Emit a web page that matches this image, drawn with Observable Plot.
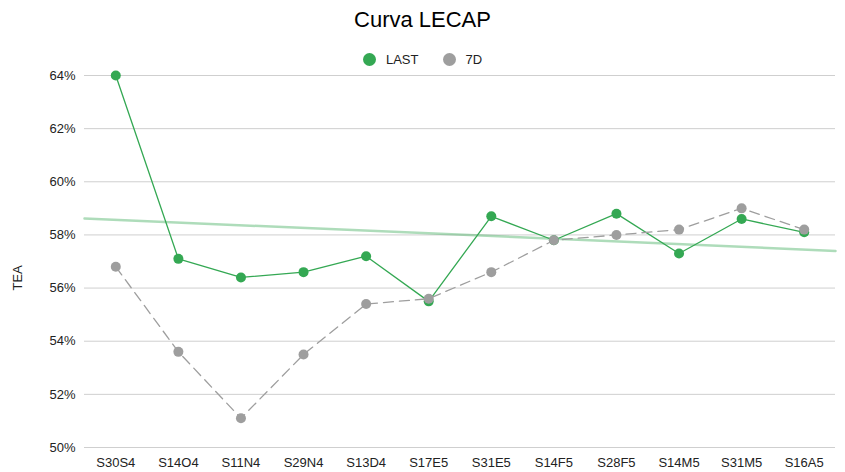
<!DOCTYPE html>
<html>
<head>
<meta charset="utf-8">
<script src="https://cdn.jsdelivr.net/npm/d3@7"></script>
<script src="https://cdn.jsdelivr.net/npm/@observablehq/plot@0.6"></script>
<style>
  html, body { margin: 0; padding: 0; background: #fff; }
  #wrap { position: relative; width: 845px; height: 472px; font-family: "Liberation Sans", Arial, sans-serif; color: #222; }
  #title { position: absolute; left: 0; width: 845px; top: 9px; text-align: center; font-size: 22px; line-height: 22px; color: #000; z-index: 2; }
  #legend { position: absolute; left: 0; width: 845px; top: 53px; display: flex; justify-content: center; align-items: center; font-size: 13px; line-height: 13px; z-index: 2; }
  .sw { display: inline-block; width: 13px; height: 13px; border-radius: 50%; margin-right: 10px; }
  .item { display: flex; align-items: center; }
  #chart { position: absolute; left: 0; top: 62px; z-index: 1; }
</style>
</head>
<body>
<div id="wrap">
  <div id="title">Curva LECAP</div>
  <div id="legend">
    <span class="item"><span class="sw" style="background:#34a853"></span>LAST</span>
    <span class="item" style="margin-left:25px"><span class="sw" style="background:#9e9e9e;margin-right:9px"></span>7D</span>
  </div>
  <div id="chart"></div>
</div>
<script>
const tickers = ["S30S4","S14O4","S11N4","S29N4","S13D4","S17E5","S31E5","S14F5","S28F5","S14M5","S31M5","S16A5"];
const lastValues = [64.0, 57.1, 56.4, 56.6, 57.2, 55.5, 58.7, 57.8, 58.8, 57.3, 58.6, 58.1];
const d7Values = [56.8, 53.6, 51.1, 53.5, 55.4, 55.6, 56.6, 57.8, 58.0, 58.2, 59.0, 58.2];
const yTicks = [50, 52, 54, 56, 58, 60, 62, 64];

const green = "#34a853";
const gray = "#9e9e9e";

const rows = tickers.map((t, i) => ({i, t, last: lastValues[i], d7: d7Values[i]}));

// linear regression trendline of LAST
const n = rows.length;
const mx = d3.mean(rows, d => d.i);
const my = d3.mean(rows, d => d.last);
const sxy = d3.sum(rows, d => (d.i - mx) * (d.last - my));
const sxx = d3.sum(rows, d => (d.i - mx) ** 2);
const slope = sxy / sxx;
const icpt = my - slope * mx;
const trend = [-0.5, n - 0.5].map(x => ({i: x, v: icpt + slope * x}));

const chart = Plot.plot({
  width: 845,
  height: 410,
  marginTop: 13,
  marginBottom: 25,
  marginLeft: 84,
  marginRight: 10,
  style: {fontFamily: "'Liberation Sans', Arial, sans-serif", fontSize: "13px", color: "#222", background: "transparent"},
  x: {type: "linear", domain: [-0.5, n - 0.5], axis: null},
  y: {domain: [50, 64], axis: null},
  marks: [
    Plot.gridY(yTicks, {stroke: "#cfcfcf", strokeOpacity: 1, strokeWidth: 1}),
    Plot.axisY(yTicks, {tickSize: 0, tickPadding: 9, tickFormat: d => d + "%", label: null, fontSize: 13}),
    Plot.axisX(d3.range(n), {tickSize: 0, tickPadding: 10, tickFormat: i => tickers[i], label: null, fontSize: 13}),
    Plot.text(["TEA"], {frameAnchor: "left", dx: -67, dy: 29, rotate: -90, fontSize: 13, fill: "#222"}),
    Plot.line(trend, {x: "i", y: "v", stroke: green, strokeOpacity: 0.4, strokeWidth: 2.5}),
    Plot.line(rows, {x: "i", y: "last", stroke: green, strokeWidth: 1.3}),
    Plot.dot(rows, {x: "i", y: "last", r: 5, fill: green}),
    Plot.line(rows, {x: "i", y: "d7", stroke: gray, strokeWidth: 1.3, strokeDasharray: "10,6"}),
    Plot.dot(rows, {x: "i", y: "d7", r: 5, fill: gray})
  ]
});
document.getElementById("chart").appendChild(chart);
</script>
</body>
</html>
